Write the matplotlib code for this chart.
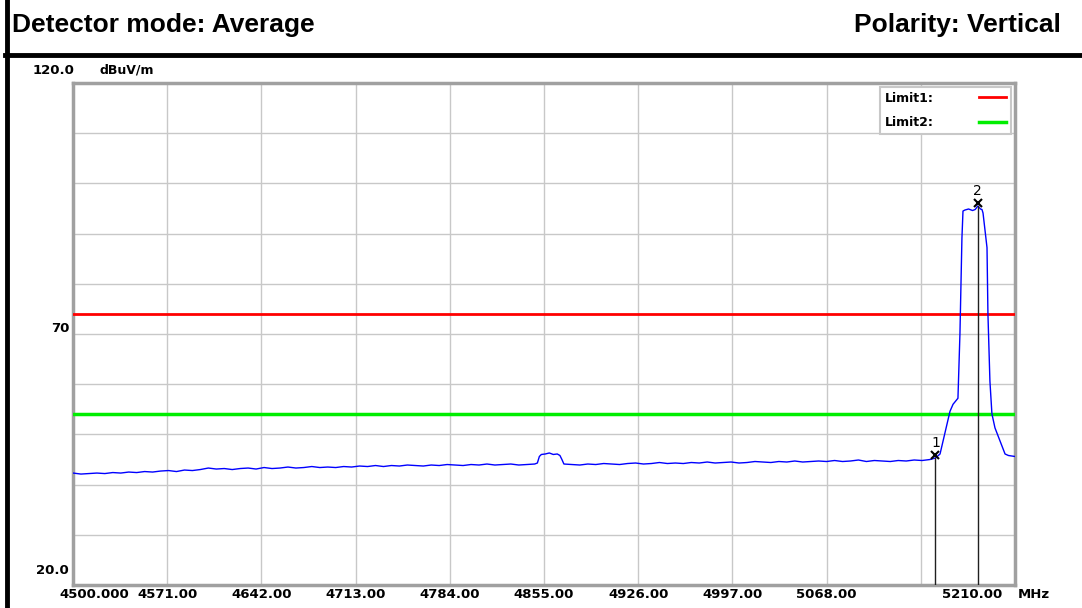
import matplotlib
matplotlib.use("Agg")
import matplotlib.pyplot as plt
from matplotlib.lines import Line2D

plt.rcParams["font.family"] = ["DejaVu Sans"]

# Spectrum trace (MHz, dBuV/m)
FREQ = [
    4500, 4506, 4512, 4518, 4524, 4530, 4536, 4542, 4548, 4554,
    4560, 4566, 4572, 4578, 4584, 4590, 4596, 4602, 4608, 4614,
    4620, 4626, 4632, 4638, 4644, 4650, 4656, 4662, 4668, 4674,
    4680, 4686, 4692, 4698, 4704, 4710, 4716, 4722, 4728, 4734,
    4740, 4746, 4752, 4758, 4764, 4770, 4776, 4782, 4788, 4794,
    4800, 4806, 4812, 4818, 4824, 4830, 4836, 4842, 4848,
    4850, 4851.5, 4853, 4856, 4859, 4862, 4865, 4867, 4868.5, 4870,
    4876, 4882, 4888, 4894, 4900, 4906, 4912, 4918, 4924, 4930,
    4936, 4942, 4948, 4954, 4960, 4966, 4972, 4978, 4984, 4990,
    4996, 5002, 5008, 5014, 5020, 5026, 5032, 5038, 5044, 5050,
    5056, 5062, 5068, 5074, 5080, 5086, 5092, 5098, 5104, 5110,
    5116, 5122, 5128, 5134, 5140, 5146,
    5150, 5153.5, 5157, 5161, 5163.3, 5167, 5168.5, 5170, 5170.8, 5172.3,
    5175, 5178, 5180, 5182, 5184, 5185.1, 5185.9, 5188.9, 5189.6, 5191.1,
    5192.6, 5194.9, 5198.7, 5202.5, 5205, 5207.7, 5210,
]
LEVEL = [
    42.3, 42.1, 42.2, 42.3, 42.2, 42.4, 42.3, 42.5, 42.4, 42.6,
    42.5, 42.7, 42.8, 42.6, 42.9, 42.8, 43.0, 43.3, 43.1, 43.2,
    43.0, 43.2, 43.3, 43.1, 43.4, 43.2, 43.3, 43.5, 43.3, 43.4,
    43.6, 43.4, 43.5, 43.4, 43.6, 43.5, 43.7, 43.6, 43.8, 43.6,
    43.8, 43.7, 43.9, 43.8, 43.7, 43.9, 43.8, 44.0, 43.9, 43.8,
    44.0, 43.9, 44.1, 43.9, 44.0, 44.1, 43.9, 44.0, 44.1,
    44.3, 45.6, 46.0, 46.1, 46.3, 46.0, 46.1, 45.8, 45.0, 44.1,
    44.0, 43.9, 44.1, 44.0, 44.2, 44.1, 44.0, 44.2, 44.3, 44.1,
    44.2, 44.4, 44.2, 44.3, 44.2, 44.4, 44.3, 44.5, 44.3, 44.4,
    44.5, 44.3, 44.4, 44.6, 44.5, 44.4, 44.6, 44.5, 44.7, 44.5,
    44.6, 44.7, 44.6, 44.8, 44.6, 44.7, 44.9, 44.6, 44.8, 44.7,
    44.6, 44.8, 44.7, 44.9, 44.8, 45.0,
    45.3, 46.1, 50.1, 54.6, 56.0, 57.2, 70.0, 89.1, 94.5, 94.7,
    94.9, 94.6, 94.8, 95.5, 94.9, 94.8, 94.1, 87.2, 74.0, 60.6,
    54.1, 51.3, 48.7, 46.1, 45.8, 45.7, 45.6,
]

F_START, F_STOP = 4500.0, 5210.0
Y_MIN, Y_MAX = 20.0, 120.0
Y_GRID = [20, 30, 40, 50, 60, 70, 80, 90, 100, 110, 120]
X_GRID = [4500, 4571, 4642, 4713, 4784, 4855, 4926, 4997, 5068, 5139, 5210]
X_LABELS = ["4500.000", "4571.00", "4642.00", "4713.00", "4784.00", "4855.00",
            "4926.00", "4997.00", "5068.00", "", "5210.00"]
Y_LABELS = {120: "120.0", 70: "70", 20: "20.0"}

LIMIT1 = 74.0   # peak limit
LIMIT2 = 54.0   # average limit

MARKER_FREQ = [5150.0, 5182.0]
MARKER_LEVEL = [45.3, 95.5]
MARKER_NAMES = ["1", "2"]

W, H = 1082, 608
fig = plt.figure(figsize=(W / 100, H / 100), dpi=100)
ax = fig.add_axes([73 / W, 1 - 585 / H, (1015 - 73) / W, (585 - 83) / H])

ax.set_xlim(F_START, F_STOP)
ax.set_ylim(Y_MIN, Y_MAX)
ax.set_xticks(X_GRID)
ax.set_yticks(Y_GRID)
ax.tick_params(length=0, labelbottom=False, labelleft=False)
ax.grid(True, color="#c8c8c8", linewidth=1.0)
for sp in ax.spines.values():
    sp.set_color("#a0a0a0")
    sp.set_linewidth(2.5)

# limit lines
l1 = ax.axhline(LIMIT1, color="#ff0000", linewidth=2.0, zorder=3)
l2 = ax.axhline(LIMIT2, color="#00ee00", linewidth=2.5, zorder=3)

# measured trace
ax.plot(FREQ, LEVEL, color="#0000ff", linewidth=1.0, zorder=4)

# markers with drop lines to the frequency axis
for f, v, name in zip(MARKER_FREQ, MARKER_LEVEL, MARKER_NAMES):
    ax.plot([f, f], [Y_MIN, v], color="#202020", linewidth=1.0, zorder=5)
    ax.plot(f, v + 0.5, marker="x", color="black", markersize=6, mew=1.5, zorder=6)
    ax.annotate(name, xy=(f, v), xytext=(0, 8), textcoords="offset pixels",
                ha="center", va="bottom", fontsize=10, zorder=6)

# frequency labels
for i, (f, lab) in enumerate(zip(X_GRID, X_LABELS)):
    if not lab:
        continue
    if i == 0:
        dx, ha = -14, "left"
    elif i == len(X_GRID) - 1:
        dx, ha = -13, "right"
    else:
        dx, ha = 0, "center"
    ax.annotate(lab, xy=(f, 0), xycoords=("data", "axes fraction"),
                xytext=(dx, -10), textcoords="offset pixels",
                ha=ha, va="center", fontsize=9.5, fontweight="bold")
ax.annotate("MHz", xy=(F_STOP, 0), xycoords=("data", "axes fraction"),
            xytext=(3, -10), textcoords="offset pixels",
            ha="left", va="center", fontsize=9.5, fontweight="bold")

# level labels
for v, lab in Y_LABELS.items():
    dy = {120: 13, 70: 5, 20: 14}[v]
    dx = 1 if v == 120 else -4
    ax.annotate(lab, xy=(0, v), xycoords=("axes fraction", "data"),
                xytext=(dx, dy), textcoords="offset pixels",
                ha="right", va="center", fontsize=9.5, fontweight="bold")
ax.annotate("dBuV/m", xy=(0, Y_MAX), xycoords=("axes fraction", "data"),
            xytext=(27, 13), textcoords="offset pixels",
            ha="left", va="center", fontsize=9, fontweight="bold")

leg = ax.legend([l1, l2], ["Limit1:", "Limit2:"], loc="upper right",
                markerfirst=False, frameon=True, fancybox=False,
                edgecolor="#c8c8c8", framealpha=1, fontsize=9,
                prop={"weight": "bold", "size": 9},
                handlelength=2.2, handletextpad=3.6, labelspacing=0.9,
                borderaxespad=0.3)
leg.get_frame().set_linewidth(1.5)

# header
fig.text(12 / W, 1 - 32 / H, "Detector mode: Average", fontsize=19,
         fontweight="bold", family="Liberation Sans", ha="left", va="baseline")
fig.text(1061 / W, 1 - 32 / H, "Polarity: Vertical", fontsize=19,
         fontweight="bold", family="Liberation Sans", ha="right", va="baseline")
fig.add_artist(Line2D([5 / W, 1], [1 - 55 / H, 1 - 55 / H], color="black",
                      linewidth=3.5, transform=fig.transFigure))
fig.add_artist(Line2D([7 / W, 7 / W], [0, 1], color="black",
                      linewidth=3.5, transform=fig.transFigure))

fig.savefig("out.png", dpi=100)
